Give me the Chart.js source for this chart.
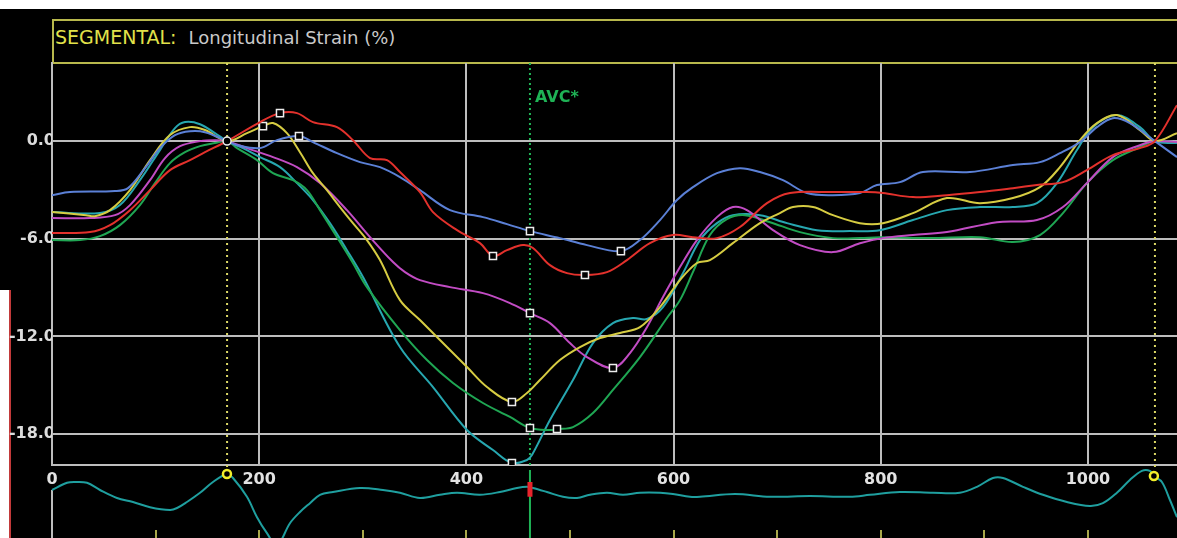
<!DOCTYPE html>
<html>
<head>
<meta charset="utf-8">
<title>Segmental longitudinal strain</title>
<script src="https://cdn.jsdelivr.net/npm/chart.js@4/dist/chart.umd.min.js"></script>
<style>
  html, body { margin: 0; padding: 0; background: #fff; }
  #wrap { position: relative; width: 1177px; height: 538px; overflow: hidden; background: #fff; }
  #screen { position: absolute; left: 0; top: 9px; width: 1177px; height: 529px; background: #000; }
  #edge { position: absolute; left: 0; top: 290px; width: 9px; height: 248px; background: #fff; border-right: 2px solid #c23a3a; }
  #head {
    position: absolute; left: 52px; top: 19px; width: 1140px;
    border: 2px solid #b8b84c; border-right: none;
    line-height: 22px; padding: 5px 0 0 1px; box-sizing: content-box; height: 36px; white-space: nowrap;
    font-family: "DejaVu Sans", sans-serif;
  }
  #head .mode { color: #e2e24a; font-size: 19px; }
  #head .what { color: #c9c9c9; font-size: 18px; margin-left: 12px; }
  canvas { position: absolute; left: 0; top: 0; }
</style>
</head>
<body>
<div id="wrap">
  <div id="screen"></div>
  <div id="edge"></div>
  <div id="head"><span class="mode">SEGMENTAL:</span><span class="what">Longitudinal Strain (%)</span></div>
  <canvas id="strain" width="1177" height="538"></canvas>
  <canvas id="ecg" width="1177" height="538"></canvas>
</div>
<script>
// ---- time axis (ms) and strain axis (%) ----
const timeTicks = [0, 200, 400, 600, 800, 1000];
const strainTicks = [0, -6, -12, -18];
const ecgTickTimes = [0, 100, 200, 300, 400, 500, 600, 700, 800, 900, 1000];
const edTimes = [169, 1064.7];   // end-diastole reference frames
const avcTime = 461.4;           // aortic valve closure

// ---- segmental strain curves ----
const redTime = [0, 36.7, 56, 75.3, 94.6, 113.9, 133.2, 147.7, 169, 200.8, 220.1, 236.5, 251.9, 275.1, 290.5, 307, 323.4, 335.9, 355.2, 367.8, 391, 413.1, 425.7, 439.2, 454.6, 464.3, 480.7, 497.1, 514.5, 535.7, 555, 577.2, 599.4, 618.7, 641.9, 664.1, 690.2, 712.4, 753.9, 786.7, 802.1, 831.1, 863.9, 895.8, 927.6, 950.8, 975.9, 999, 1024.1, 1050.2, 1064.7, 1086];
const redStrain = [-5.65, -5.59, -5.16, -4.24, -3.01, -1.78, -1.17, -0.68, 0, 1.17, 1.72, 1.72, 1.17, 0.86, 0.06, -1.04, -1.17, -1.90, -3.13, -4.36, -5.47, -6.27, -7.06, -6.70, -6.39, -6.57, -7.62, -8.11, -8.23, -8.05, -7.31, -6.27, -5.77, -5.90, -5.96, -5.28, -3.81, -3.19, -3.13, -3.13, -3.19, -3.44, -3.32, -3.13, -2.89, -2.70, -2.52, -1.78, -0.86, -0.43, 0, 2.21];
const redMarks = [220.1, 425.7, 514.5];

const blueTime = [0, 17.4, 60.8, 73.4, 89.8, 104.2, 118.7, 133.2, 147.7, 169, 178.6, 200.8, 217.2, 238.4, 251.9, 275.1, 297.3, 316.6, 335.9, 355.2, 384.2, 416, 439.2, 461.4, 490.3, 516.4, 549.2, 567.6, 586.9, 603.3, 618.7, 641.9, 664.1, 683.4, 705.6, 728.8, 753.9, 779.9, 796.3, 818.5, 840.7, 886.1, 927.6, 953.7, 973, 992.3, 1008.7, 1024.1, 1040.5, 1064.7, 1086];
const blueStrain = [-3.32, -3.13, -3.07, -2.89, -1.66, -0.43, 0.37, 0.61, 0.55, 0, -0.25, -0.43, 0.06, 0.31, -0.06, -0.74, -1.29, -1.60, -2.21, -3.01, -4.24, -4.67, -5.10, -5.53, -5.96, -6.39, -6.76, -6.08, -4.85, -3.62, -2.83, -1.97, -1.66, -1.90, -2.40, -3.19, -3.32, -3.19, -2.70, -2.52, -1.90, -1.90, -1.47, -1.29, -0.74, -0.06, 0.86, 1.41, 1.11, 0, -0.98];
const blueMarks = [238.4, 461.4, 549.2];

const yellowTime = [0, 32.8, 41.5, 56, 75.3, 94.6, 113.9, 133.2, 147.7, 169, 188.2, 203.7, 213.3, 226.8, 239.4, 251.9, 265.4, 278, 290.5, 304, 316.6, 335.9, 355.2, 374.5, 400.6, 419.9, 444, 458.5, 471, 490.3, 509.7, 529, 548.3, 567.6, 586.9, 606.2, 622.6, 635.1, 657.3, 683.4, 702.7, 715.3, 734.6, 753.9, 779.9, 802.1, 831.1, 863.9, 895.8, 927.6, 953.7, 973, 992.3, 1008.7, 1028, 1050.2, 1064.7, 1086];
const yellowStrain = [-4.36, -4.55, -4.61, -4.24, -3.01, -1.17, 0.37, 0.86, 0.68, 0, 0.49, 0.92, 1.11, 0.49, -0.68, -1.97, -3.01, -4.05, -5.04, -6.08, -7.31, -9.77, -10.99, -12.22, -13.88, -15.11, -16.03, -15.48, -14.68, -13.45, -12.65, -12.10, -11.79, -11.43, -10.20, -8.54, -7.49, -7.31, -6.27, -5.04, -4.42, -4.05, -4.05, -4.55, -5.04, -5.04, -4.42, -3.50, -3.81, -3.50, -2.83, -1.60, 0.06, 1.11, 1.60, 0.68, 0, 0.49];
const yellowMarks = [203.7, 444];

const magentaTime = [0, 36.7, 60.8, 75.3, 94.6, 109.1, 123.6, 142.9, 157.3, 169, 188.2, 213.3, 236.5, 258.7, 284.7, 307, 329.2, 340.8, 355.2, 384.2, 416, 442.1, 461.4, 480.7, 500, 516.4, 541.5, 557.9, 574.3, 589.8, 606.2, 622.6, 641.9, 657.3, 670.8, 696, 722, 753.9, 779.9, 802.1, 831.1, 863.9, 912.2, 950.8, 975.9, 999, 1024.1, 1050.2, 1064.7, 1086];
const magentaStrain = [-4.73, -4.73, -4.55, -3.93, -2.40, -1.04, -0.31, 0, 0.06, 0, -0.43, -0.98, -1.60, -2.58, -4.24, -5.90, -7.43, -8.05, -8.54, -8.97, -9.34, -9.95, -10.57, -11.18, -12.41, -13.27, -13.94, -13.02, -11.43, -9.58, -7.74, -6.08, -4.67, -4.05, -4.24, -5.47, -6.39, -6.82, -6.27, -5.96, -5.77, -5.59, -4.98, -4.85, -4.05, -2.58, -0.98, -0.25, 0, -0.06];
const magentaMarks = [461.4, 541.5];

const greenTime = [0, 27, 46.3, 65.6, 84.9, 99.4, 113.9, 128.4, 142.9, 157.3, 169, 178.6, 197.9, 213.3, 232.6, 246.1, 258.7, 275.1, 290.5, 304, 335.9, 362, 387.1, 416, 442.1, 461.4, 480.7, 487.5, 502.9, 522.2, 541.5, 567.6, 593.6, 606.2, 618.7, 635.1, 651.5, 668.9, 693.1, 722, 753.9, 779.9, 799.2, 847.5, 895.8, 927.6, 953.7, 975.9, 999, 1024.1, 1050.2, 1064.7, 1086];
const greenStrain = [-6.08, -6.08, -5.84, -5.16, -3.93, -2.58, -1.35, -0.68, -0.31, -0.12, 0, -0.43, -1.17, -1.97, -2.40, -3.01, -4.24, -5.90, -7.49, -8.97, -11.61, -13.45, -14.86, -16.09, -16.95, -17.63, -17.75, -17.69, -17.57, -16.71, -15.29, -13.27, -10.87, -9.77, -8.05, -5.77, -4.79, -4.55, -4.98, -5.59, -5.96, -5.96, -5.90, -5.96, -5.90, -6.20, -5.77, -4.42, -2.58, -1.17, -0.37, 0, -0.06];
const greenMarks = [461.4, 487.5];

const tealTime = [0, 46.3, 65.6, 84.9, 104.2, 118.7, 128.4, 142.9, 157.3, 169, 188.2, 200.8, 220.1, 236.5, 251.9, 268.3, 284.7, 300.2, 335.9, 367.8, 400.6, 425.7, 444, 458.5, 463.3, 480.7, 502.9, 522.2, 541.5, 560.8, 574.3, 589.8, 609.1, 625.5, 641.9, 657.3, 683.4, 709.5, 738.4, 770.3, 799.2, 831.1, 863.9, 895.8, 927.6, 950.8, 970.1, 989.4, 1004.8, 1028, 1050.2, 1064.7, 1086];
const tealStrain = [-4.36, -4.42, -3.93, -2.40, -0.55, 0.80, 1.17, 1.04, 0.49, 0, -0.55, -0.98, -1.60, -2.58, -3.62, -5.04, -6.70, -8.35, -12.65, -15.11, -17.75, -18.98, -19.78, -19.59, -19.29, -17.14, -14.68, -12.41, -11.18, -10.87, -10.93, -10.20, -8.11, -6.08, -5.04, -4.55, -4.55, -5.04, -5.47, -5.53, -5.47, -4.85, -4.24, -4.05, -4.05, -3.81, -2.58, -0.55, 0.86, 1.60, 0.86, 0, -0.12];
const tealMarks = [444];

// ---- ECG trace (mV) ----
const ecgTime = [0, 14.5, 22.2, 33.8, 46.3, 62.7, 78.2, 94.6, 113.9, 120.7, 130.3, 142.9, 155.4, 168.9, 174.7, 188.2, 197.9, 207.5, 217.2, 229.7, 239.4, 249, 258.7, 271.2, 297.3, 319.5, 335.9, 355.2, 374.5, 391, 413.1, 432.4, 448.8, 458.5, 464.3, 477.8, 493.2, 506.8, 519.3, 535.7, 551.2, 567.6, 586.9, 599.4, 615.8, 625.5, 659.3, 693.1, 731.7, 770.3, 789.6, 818.5, 850.4, 876.4, 892.9, 908.3, 918, 937.3, 956.6, 979.7, 1001.9, 1014.5, 1028, 1040.5, 1052.1, 1059.8, 1063.7, 1071.4, 1079.2, 1086];
const ecgAmp = [0.25, 0.43, 0.45, 0.43, 0.25, 0.05, -0.05, -0.18, -0.25, -0.2, -0.05, 0.18, 0.45, 0.65, 0.55, 0.08, -0.43, -0.83, -1.13, -0.58, -0.3, -0.08, 0.13, 0.2, 0.3, 0.25, 0.18, 0.05, 0.13, 0.18, 0.13, 0.2, 0.3, 0.33, 0.3, 0.2, 0.08, 0.05, 0.13, 0.18, 0.13, 0.18, 0.18, 0.15, 0.08, 0.08, 0.15, 0.08, 0.1, 0.08, 0.13, 0.2, 0.18, 0.18, 0.33, 0.55, 0.55, 0.33, 0.13, -0.05, -0.15, -0.08, 0.18, 0.5, 0.73, 0.73, 0.6, 0.45, 0, -0.43];
const ecgEdTimes = [168.9, 1063.7];

// ---- scale limits ----
const TIME_MAX = 1086;
const STRAIN_MIN = -19.9, STRAIN_MAX = 4.8;
const ECG_MIN = -0.75, ECG_MAX = 0.875;

const FONT = "'DejaVu Sans', sans-serif";
const GRID = '#bdbdbd';

const toPoints = (xs, ys) => xs.map((x, i) => ({ x, y: ys[i] }));

// keep the time axis flush with the canvas edges
const noSidePadding = s => { s.paddingLeft = 0; s.paddingRight = 0; };

function strainCurve(label, color, xs, ys, marks) {
  return {
    type: 'line', label, data: toPoints(xs, ys),
    borderColor: color, borderWidth: 2, tension: 0.35, fill: false,
    pointStyle: 'rect',
    pointRadius: c => (marks.includes(c.raw.x) ? 5 : 0),
    pointHoverRadius: 0,
    pointBackgroundColor: '#000', pointBorderColor: '#ececec', pointBorderWidth: 1.5
  };
}

function vline(label, x, y0, y1, color, width, dash) {
  return {
    type: 'line', label, data: [{ x, y: y0 }, { x, y: y1 }],
    borderColor: color, borderWidth: width, borderDash: dash || [],
    pointRadius: 0, clip: false, tension: 0
  };
}

// "AVC*" label next to the valve-closure line
const avcLabel = {
  id: 'avcLabel',
  afterDatasetsDraw(chart) {
    const ctx = chart.ctx, xs = chart.scales.x;
    ctx.save();
    ctx.fillStyle = '#1fb356';
    ctx.font = `bold 16px ${FONT}`;
    ctx.textBaseline = 'alphabetic';
    ctx.fillText('AVC*', xs.getPixelForValue(avcTime) + 5, 102);
    ctx.restore();
  }
};

new Chart(document.getElementById('strain'), {
  data: {
    datasets: [
      {
        type: 'scatter', label: 'reference', data: [{ x: edTimes[0], y: 0 }],
        pointStyle: 'circle', pointRadius: 4, pointBorderWidth: 1.5,
        pointBorderColor: '#ececec', pointBackgroundColor: '#000'
      },
      strainCurve('red', '#e3312c', redTime, redStrain, redMarks),
      strainCurve('blue', '#5b80d6', blueTime, blueStrain, blueMarks),
      strainCurve('yellow', '#d6cc42', yellowTime, yellowStrain, yellowMarks),
      strainCurve('magenta', '#c24cc4', magentaTime, magentaStrain, magentaMarks),
      strainCurve('green', '#1fa653', greenTime, greenStrain, greenMarks),
      strainCurve('teal', '#27a7b0', tealTime, tealStrain, tealMarks),
      vline('ED', edTimes[0], STRAIN_MAX, -20.3, '#dcd866', 2, [2, 4]),
      vline('ED next', edTimes[1], STRAIN_MAX, -20.3, '#dcd866', 2, [2, 4]),
      vline('AVC', avcTime, STRAIN_MAX, STRAIN_MIN, '#1fb356', 2, [2, 3])
    ]
  },
  options: {
    responsive: false, animation: false, devicePixelRatio: 1,
    layout: { autoPadding: false, padding: { top: 63, left: 0, right: 0, bottom: 0 } },
    plugins: { legend: { display: false }, tooltip: { enabled: false } },
    scales: {
      x: {
        type: 'linear', min: 0, max: TIME_MAX, position: 'bottom',
        afterBuildTicks: s => { s.ticks = timeTicks.map(v => ({ value: v })); },
        afterFit: s => { s.height = 73; noSidePadding(s); },
        ticks: {
          color: '#e2e2e2', font: { family: FONT, size: 16, weight: 'bold' },
          padding: 5, maxRotation: 0, autoSkip: false, includeBounds: false,
          callback: v => String(v)
        },
        grid: { color: GRID, lineWidth: 2, drawTicks: false },
        border: { display: true, color: GRID, width: 2 }
      },
      y: {
        type: 'linear', min: STRAIN_MIN, max: STRAIN_MAX,
        afterBuildTicks: s => { s.ticks = strainTicks.map(v => ({ value: v })); },
        afterFit: s => { s.width = 52; },
        ticks: {
          color: '#dcdcdc', font: { family: FONT, size: 16, weight: 'bold' },
          padding: -3, includeBounds: false,
          callback: v => (v === 0 ? '0.0' : v.toFixed(1))
        },
        grid: { color: GRID, lineWidth: 2, drawTicks: false },
        border: { display: true, color: GRID, width: 2 }
      }
    }
  },
  plugins: [avcLabel]
});

// ECG strip below the strain plot
const ecgAt = t => ecgAmp[ecgTime.indexOf(t)];
new Chart(document.getElementById('ecg'), {
  data: {
    datasets: [
      {
        type: 'scatter', label: 'ED frames', data: ecgEdTimes.map(t => ({ x: t, y: ecgAt(t) })),
        pointStyle: 'circle', pointRadius: 4, pointBorderWidth: 2.5,
        pointBorderColor: '#f2ee2a', pointBackgroundColor: '#000', clip: false
      },
      vline('AVC mark', avcTime, 0.45, 0.08, '#e8242c', 5),
      {
        type: 'line', label: 'ECG', data: toPoints(ecgTime, ecgAmp),
        borderColor: '#1f9f9f', borderWidth: 2, tension: 0.35, pointRadius: 0, clip: false
      },
      vline('AVC line', avcTime, 0.75, -0.95, '#1fb356', 2),
      vline('ECG axis', 0, 0.25, -0.95, GRID, 2)
    ]
  },
  options: {
    responsive: false, animation: false, devicePixelRatio: 1,
    layout: { autoPadding: false, padding: { top: 465, left: 52, right: 0, bottom: 0 } },
    plugins: { legend: { display: false }, tooltip: { enabled: false } },
    scales: {
      x: {
        type: 'linear', min: 0, max: TIME_MAX, position: 'bottom',
        afterBuildTicks: s => { s.ticks = ecgTickTimes.map(v => ({ value: v })); },
        afterFit: s => { s.height = 8; noSidePadding(s); },
        ticks: { display: false, includeBounds: false },
        grid: { drawOnChartArea: false, drawTicks: true, tickLength: 8, color: '#a9a84a', lineWidth: 2 },
        border: { display: false }
      },
      y: { type: 'linear', min: ECG_MIN, max: ECG_MAX, display: false }
    }
  }
});
</script>
</body>
</html>
